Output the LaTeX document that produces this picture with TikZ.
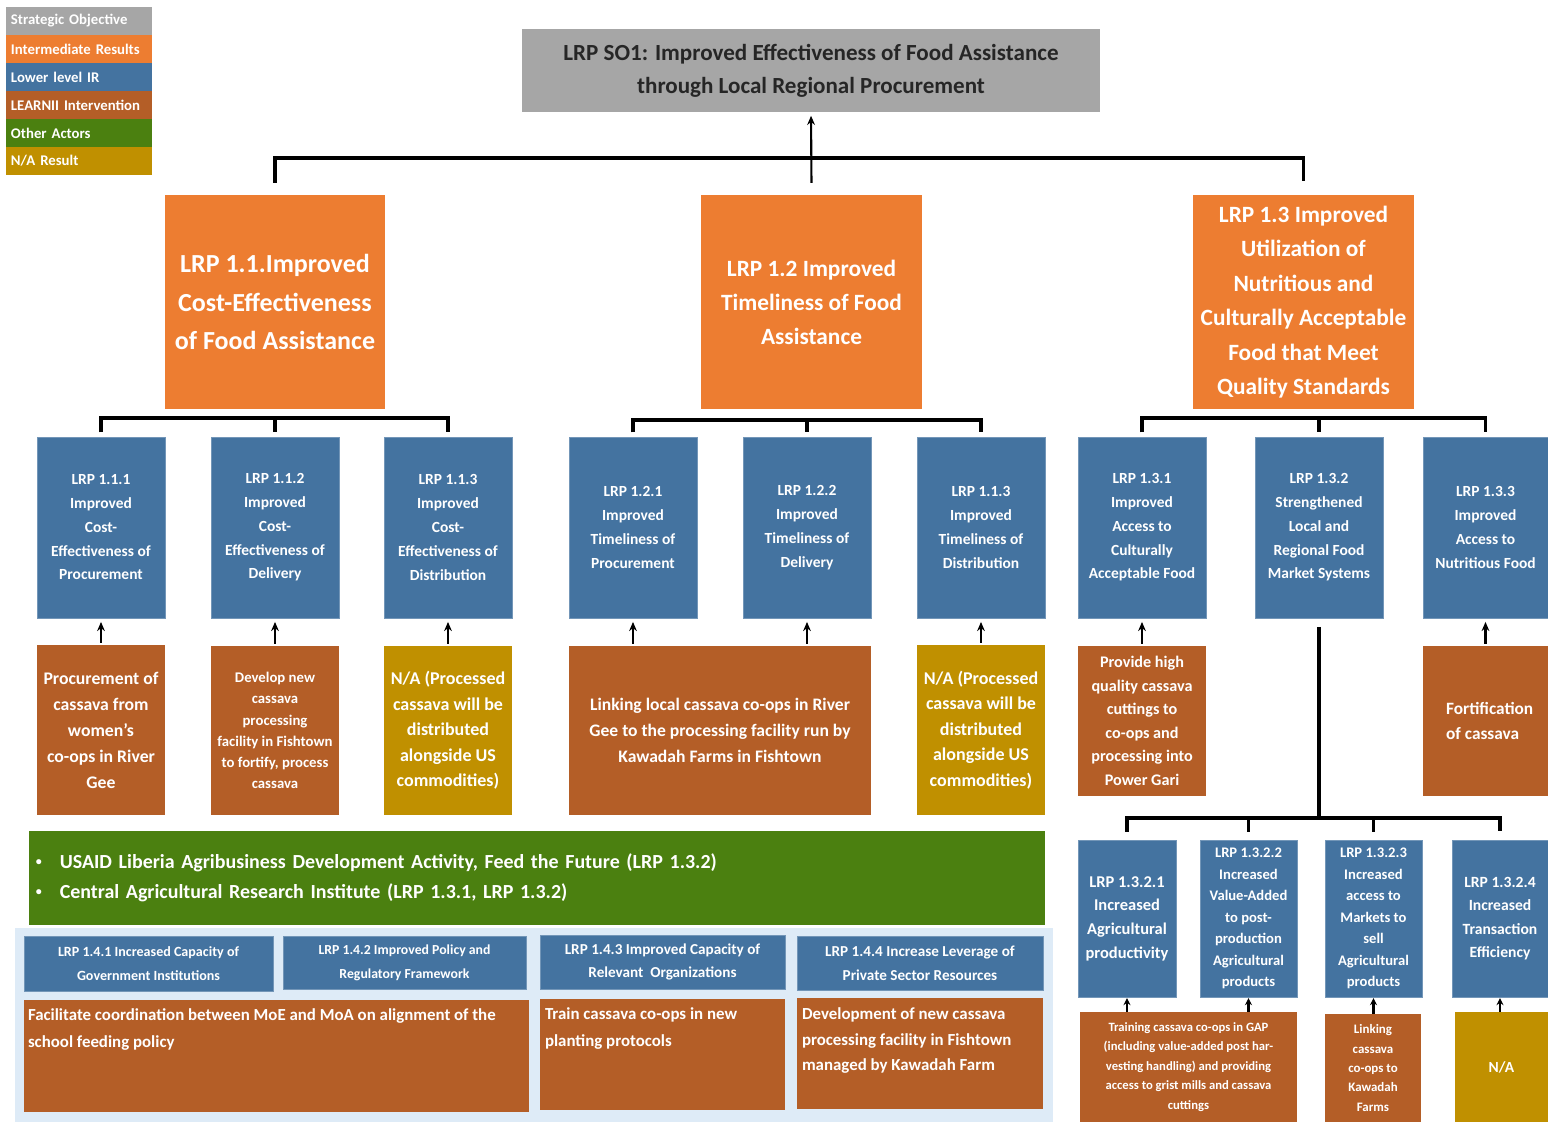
\documentclass[tikz,border=0pt]{standalone}
\usepackage{fontspec}
\setmainfont{Carlito}
\usetikzlibrary{arrows.meta}

\definecolor{sogray}{HTML}{A6A6A6}
\definecolor{irorange}{HTML}{ED7D31}
\definecolor{llblue}{HTML}{4473A0}
\definecolor{lrnbrown}{HTML}{B45E27}
\definecolor{actgreen}{HTML}{4B8010}
\definecolor{nagold}{HTML}{C09000}
\definecolor{panelblue}{HTML}{DEEBF7}
\definecolor{sotext}{HTML}{262626}

\tikzset{
	cell/.style={inner sep=0pt, align=center, text=white},
	sz/.style 2 args={minimum width={#1*0.025cm}, minimum height={#2*0.025cm}},
	fs/.style 2 args={font=\fontsize{#1}{#2}\selectfont\bfseries},
	so/.style={cell, fill=sogray, text=sotext},
	ir/.style={cell, fill=irorange},
	llir/.style={cell, fill=llblue, draw=llblue!75!white, line width=0.6pt},
	lrn/.style={cell, fill=lrnbrown},
	na/.style={cell, fill=nagold},
	actor/.style={cell, fill=actgreen, align=left},
	bus/.style={line width=2.2pt},
	up/.style={-{Stealth[length=6.5pt, width=5.5pt]}, line width=1.8pt, 
		shorten <=1.5pt, shorten >=2.5pt}
}

\newcommand{\smallbullet}{\makebox[17pt][l]{\raisebox{0.15em}{\scalebox{0.6}{\textbullet}}}}

\begin{document}
\begin{tikzpicture}[
		x=0.025cm, 
		y=-0.025cm
		]
		
		\useasboundingbox (0,0) rectangle (1548,1122);
		
		% legend
		\foreach \c/\t [count=\i] in {sogray/Strategic Objective, 
			irorange/Intermediate Results, llblue/Lower level IR, 
			lrnbrown/LEARNII Intervention, actgreen/Other Actors, 
			nagold/{N/A Result}} {
			\node[cell, fill=\c, sz={146}{28}, text width=3.4cm, align=left, 
			fs={10.5}{12}] (leg\i) at (79, 28*\i-7) {\t};
		}
		
		% strategic objective
		\node[so, sz={578}{83}, fs={16.4}{23.5}] (so) at (811,70.5) 
		{LRP SO1: Improved Effectiveness of Food Assistance\\
			through Local Regional Procurement};
		
		% intermediate results
		\node[ir, sz={220}{214}, fs={18.5}{27.4}] (ir1) at (275,302) 
		{LRP 1.1.Improved\\Cost-Effectiveness\\of Food Assistance};
		\node[ir, sz={221}{214}, fs={16.6}{24.2}] (ir2) at (811.5,302) 
		{LRP 1.2 Improved\\Timeliness of Food\\Assistance};
		\node[ir, sz={221}{214}, fs={16.6}{24.5}] (ir3) at (1303.5,302) 
		{LRP 1.3 Improved\\Utilization of\\Nutritious and\\
			Culturally Acceptable\\Food that Meet\\Quality Standards};
		
		% lower level IR
		\foreach \n/\x/\w/\t in {
			l111/101/128/{LRP 1.1.1\\Improved\\Cost-\\Effectiveness of\\Procurement},
			l112/275/128/{LRP 1.1.2\\Improved\\Cost-\\Effectiveness of\\Delivery},
			l113/448/128/{LRP 1.1.3\\Improved\\Cost-\\Effectiveness of\\Distribution},
			l121/633/128/{LRP 1.2.1\\Improved\\Timeliness of\\Procurement},
			l122/807/128/{LRP 1.2.2\\Improved\\Timeliness of\\Delivery},
			l123/981/128/{LRP 1.1.3\\Improved\\Timeliness of\\Distribution},
			l131/1142/128/{LRP 1.3.1\\Improved\\Access to\\Culturally\\Acceptable Food},
			l132/1319/128/{LRP 1.3.2\\Strengthened\\Local and\\Regional Food\\Market Systems},
			l133/1485.5/125/{LRP 1.3.3\\Improved\\Access to\\Nutritious Food}} {
			\node[llir, sz={\w}{181}, fs={11}{16.9}] (\n) at (\x,527.5) {\t};
		}
		
		% interventions
		\node[lrn, sz={128}{170}, fs={12.6}{18.5}] (i111) at (101,730) 
		{Procurement of\\cassava from\\women’s\\co-ops in River\\Gee};
		\node[lrn, sz={128}{169}, fs={10.5}{15}] (i112) at (275,730.5) 
		{Develop new\\cassava\\processing\\facility in Fishtown\\
			to fortify, process\\cassava};
		\node[na, sz={128}{169}, fs={12.8}{18.1}] (i113) at (448,730.5) 
		{N/A (Processed\\cassava will be\\distributed\\alongside US\\commodities)};
		\node[lrn, sz={302}{169}, fs={12.5}{18.5}] (i12) at (720,730.5) 
		{Linking local cassava co-ops in River\\
			Gee to the processing facility run by\\Kawadah Farms in Fishtown};
		\node[na, sz={128}{170}, fs={12.8}{18.1}] (i123) at (981,730) 
		{N/A (Processed\\cassava will be\\distributed\\alongside US\\commodities)};
		\node[lrn, sz={128}{150}, fs={11.5}{16.7}] (i131) at (1142,721) 
		{Provide high\\quality cassava\\cuttings to\\co-ops and\\
			processing into\\Power Gari};
		\node[lrn, sz={125}{150}] (i133) at (1485.5,721) {};
		\node[cell, align=left, fs={12.3}{17.8}] (i133t) 
		at ([xshift=3pt]i133.center) {Fortification\\of cassava};
		
		% other actors
		\node[actor, sz={1016}{94}, text width=25.05cm, fs={14.2}{21.3}] (act) 
		at (537,878) 
		{\smallbullet USAID Liberia Agribusiness Development 
			Activity, Feed the Future (LRP 1.3.2)\\
			\smallbullet Central Agricultural Research Institute 
			(LRP 1.3.1, LRP 1.3.2)};
		
		% cross-cutting results
		\node[fill=panelblue, sz={1038}{194}, inner sep=0pt] (panel) 
		at (534,1025) {};
		
		\node[llir, sz={249}{55}, fs={10}{17}] (l141) at (148.5,963.5) 
		{LRP 1.4.1 Increased Capacity of\\Government Institutions};
		\node[llir, sz={243}{53}, fs={9.8}{17}] (l142) at (404.5,962.5) 
		{LRP 1.4.2 Improved Policy and\\Regulatory Framework};
		\node[llir, sz={245}{54}, fs={10.8}{16.7}] (l143) at (662.5,962) 
		{LRP 1.4.3 Improved Capacity of\\Relevant\ \ Organizations};
		\node[llir, sz={246}{54}, fs={10.8}{17}] (l144) at (920,963) 
		{LRP 1.4.4 Increase Leverage of\\Private Sector Resources};
		
		\node[lrn, sz={505}{112}] (f141) at (276.5,1056) {};
		\node[lrn, sz={245}{111}] (f143) at (662.5,1054.5) {};
		\node[lrn, sz={246}{111}] (f144) at (920,1053.5) {};
		
		\node[cell, align=left, anchor=north west, fs={12}{19.2}] (f141t) 
		at ([shift={(4,9)}]f141.north west) 
		{Facilitate coordination between MoE and MoA on alignment of the\\
			school feeding policy};
		\node[cell, align=left, anchor=north west, fs={12}{19.2}] (f143t) 
		at ([shift={(5,9)}]f143.north west) 
		{Train cassava co-ops in new\\planting protocols};
		\node[cell, align=left, anchor=north west, fs={12}{18}] (f144t) 
		at ([shift={(5,10)}]f144.north west) 
		{Development of new cassava\\processing facility in Fishtown\\
			managed by Kawadah Farm};
		
		% LRP 1.3.2 sub results
		\node[llir, sz={98}{157}, fs={11.7}{16.8}] (s1321) at (1127,918.5) 
		{LRP 1.3.2.1\\Increased\\Agricultural\\productivity};
		\node[llir, sz={97}{157}, fs={10.4}{15.3}] (s1322) at (1248.5,918.5) 
		{LRP 1.3.2.2\\Increased\\Value-Added\\to post-\\production\\
			Agricultural\\products};
		\node[llir, sz={97}{157}, fs={10.4}{15.3}] (s1323) at (1373.5,918.5) 
		{LRP 1.3.2.3\\Increased\\access to\\Markets to\\sell\\
			Agricultural\\products};
		\node[llir, sz={96}{157}, fs={11.1}{16.7}] (s1324) at (1500,918.5) 
		{LRP 1.3.2.4\\Increased\\Transaction\\Efficiency};
		
		\node[lrn, sz={217}{110}, fs={9}{13.9}] (trn) at (1188.5,1067) 
		{Training cassava co-ops in GAP\\(including value-added post har-\\
			vesting handling) and providing\\access to grist mills and cassava\\
			cuttings};
		\node[lrn, sz={96}{108}, fs={9.2}{13.7}] (lnk) at (1373,1068) 
		{Linking\\cassava\\co-ops to\\Kawadah\\Farms};
		\node[na, sz={93}{110}, fs={11}{14}] (na2) at (1501.5,1067) {N/A};
		
		% connectors
		\coordinate (top) at (0,158);
		\draw[bus] ([yshift=8.5pt]ir1.north) |- (ir2.north |- top) 
		-| ([yshift=10pt]ir3.north);
		\draw[up, line width=1.5pt] ([yshift=7pt]ir2.north) -- (so.south);
		
		\foreach \a/\b/\c/\y in {l111/l112/l113/418, l121/l122/l123/420, 
			l131/l132/l133/418} {
			\coordinate (bk) at (0,\y);
			\draw[bus] ([yshift=3pt]\a.north) |- (\b.north |- bk) 
			-| ([yshift=3pt]\c.north);
			\draw[bus] (\b.north |- bk) -- ([yshift=3pt]\b.north);
		}
		
		\foreach \f/\t in {i111/l111, i112/l112, i113/l113, i12/l121, 
			i12/l122, i123/l123, i131/l131, i133/l133} {
			\draw[up] (\t.south |- \f.north) -- (\t.south);
		}
		
		\coordinate (sb) at (0,818);
		\draw[bus] ([yshift=-6pt]l132.south) -- (l132.south |- sb);
		\draw[bus] ([yshift=5.5pt]s1321.north) |- (s1324.north |- sb) 
		-- ([yshift=6pt]s1324.north);
		\foreach \s in {s1322, s1323} {
			\draw[bus] (\s.north |- sb) -- ([yshift=5.5pt]\s.north);
		}
		
		\foreach \f/\t in {trn/s1321, trn/s1322, lnk/s1323, na2/s1324} {
			\draw[-{Stealth[length=5pt, width=5pt]}, line width=1.5pt, 
			shorten >=0.5pt] (\t.south |- \f.north) -- (\t.south);
		}
		
\end{tikzpicture}
\end{document}
